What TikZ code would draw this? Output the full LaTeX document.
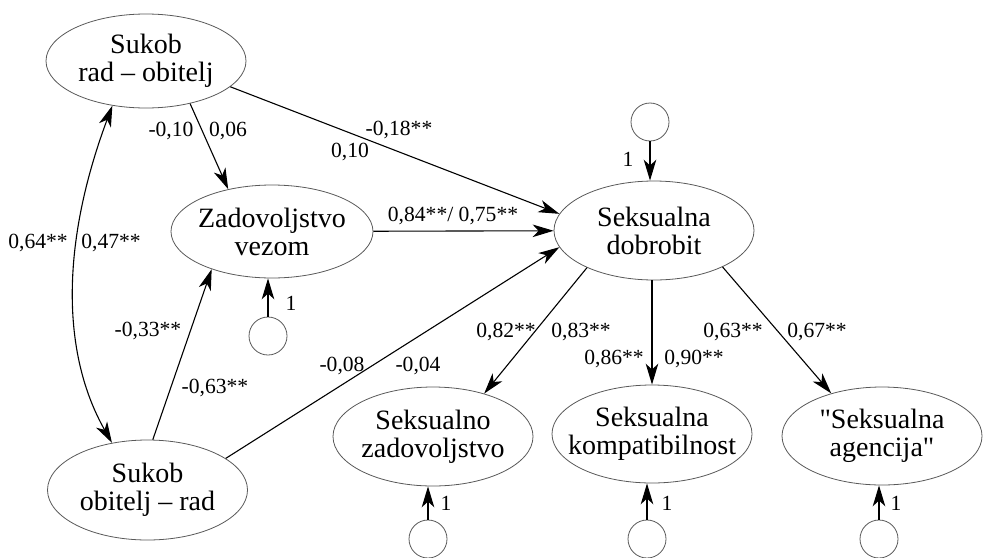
\documentclass[tikz,border=0pt]{standalone}
\usepackage{fontspec}
\setmainfont{Liberation Serif}
\newfontfamily\qfont{Liberation Serif}[Ligatures=ResetAll]
\usetikzlibrary{shapes.geometric,arrows.meta}
\tikzset{
  lat/.style={ellipse, draw=black!65, line width=0.4pt, inner sep=0pt, minimum width=100pt, minimum height=49pt},
  txt/.style={align=center, inner sep=0pt, font=\fontsize{14}{14}\selectfont},
  res/.style={circle, draw=black!65, line width=0.4pt, inner sep=0pt, minimum size=19pt},
  lbl/.style={inner sep=0pt, font=\fontsize{10.8}{12}\selectfont},
  arr/.style={line width=0.55pt, -{Stealth[length=10.5pt,width=6.3pt,inset=3pt]}},
  darr/.style={line width=0.55pt, {Stealth[length=10.5pt,width=6.3pt,inset=3pt]}-{Stealth[length=10.5pt,width=6.3pt,inset=3pt]}}
}
\begin{document}
\begin{tikzpicture}[x=0.5pt,y=-0.5pt]
\useasboundingbox (0,0) rectangle (983,557);
% latent variables
\node[lat, minimum height=47pt] (sro) at (146,61) {};
\node[txt] (sroT) at (sro) {Sukob\\rad – obitelj};
\node[lat, minimum width=101pt, minimum height=46.5pt] (zad) at (272,231.5) {};
\node[txt] (zadT) at (zad) {Zadovoljstvo\\vezom};
\node[lat, minimum height=50pt] (sor) at (147.5,490) {};
\node[txt] (sorT) at (sor) {Sukob\\obitelj – rad};
\node[lat, minimum height=49.5pt] (dob) at (654,230.5) {};
\node[txt] (dobT) at (dob) {Seksualna\\dobrobit};
\node[lat, minimum height=49.5pt] (szad) at (433,436.5) {};
\node[txt] (szadT) at (szad) {Seksualno\\zadovoljstvo};
\node[lat] (kom) at (652,434) {};
\node[txt] (komT) at (kom) {Seksualna\\kompatibilnost};
\node[lat] (agc) at (882,436) {};
\node[txt] (agcT) at (agc) {{\qfont"}Seksualna\\agencija{\qfont"}};
% residuals
\node[res] (ct) at (650,122) {};
\node[res] (cz) at (268,336) {};
\node[res] (cs) at (428,539) {};
\node[res] (ck) at (647,539) {};
\node[res] (ca) at (879,539) {};
% paths
\draw[arr] (sro.316) -- (zad.136);
\draw[arr] (sro.343) -- (dob.170);
\draw[arr] (zad) -- (dob);
\draw[arr] (sor.84) -- (zad.212);
\draw[arr] (sor.22) -- (dob.190);
\draw[darr] (sro.233) .. controls (61,243) and (61,353) .. (sor.127);
\draw[arr] (dob.209) -- (szad.40);
\draw[arr] (dob.south -| kom.north) -- (kom.north);
\draw[arr] (dob.332) -- (agc.140);
% residual arrows
\draw[arr] (ct.south) -- (ct.south |- dob.north);
\draw[arr] (cz.north) -- (cz.north |- zad.south);
\draw[arr] (cs.north) -- (cs.north |- szad.south);
\draw[arr] (ck.north) -- (ck.north |- kom.south);
\draw[arr] (ca.north) -- (ca.north |- agc.south);
% labels
\node[lbl] (l1) at (171,131) {-0,10};
\node[lbl] (l2) at (228,131) {0,06};
\node[lbl] (l3) at (399,130) {-0,18**};
\node[lbl] (l4) at (350,152) {0,10};
\node[lbl] (l5) at (453,216) {0,84**/ 0,75**};
\node[lbl] (l6) at (38,243) {0,64**};
\node[lbl] (l7) at (111,243) {0,47**};
\node[lbl] (l8) at (148,331) {-0,33**};
\node[lbl] (l9) at (215,388) {-0,63**};
\node[lbl] (l10) at (342,366) {-0,08};
\node[lbl] (l11) at (418,366) {-0,04};
\node[lbl] (l12) at (506,332) {0,82**};
\node[lbl] (l13) at (581,332) {0,83**};
\node[lbl] (l14) at (614,359) {0,86**};
\node[lbl] (l15) at (694,359) {0,90**};
\node[lbl] (l16) at (733,332) {0,63**};
\node[lbl] (l17) at (817,332) {0,67**};
\node[lbl] (r1) at (628,159) {1};
\node[lbl] (r2) at (291,303) {1};
\node[lbl] (r3) at (446,503) {1};
\node[lbl] (r4) at (667,503) {1};
\node[lbl] (r5) at (896,503) {1};
\end{tikzpicture}
\end{document}
